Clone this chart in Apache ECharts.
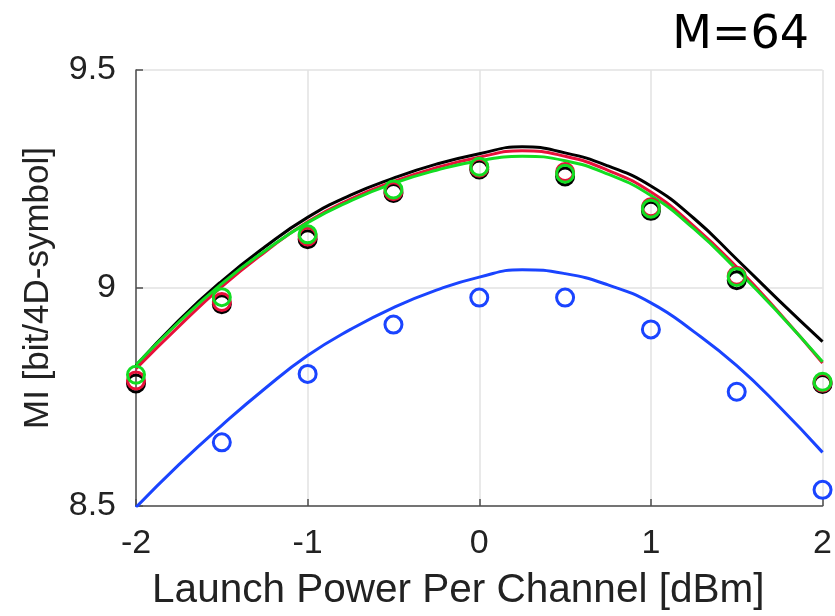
<!DOCTYPE html>
<html>
<head>
<meta charset="utf-8">
<script src="https://cdn.jsdelivr.net/npm/echarts@6/dist/echarts.min.js"></script>
<style>
  html, body { margin: 0; padding: 0; background: #fff; }
  #chart { width: 835px; height: 616px; }
</style>
</head>
<body>
<div id="chart"></div>
<script>
// Launch power (dBm): fine grid for model curves, coarse grid for simulated points
const powerCurve = [-2, -1.75, -1.5, -1.25, -1, -0.75, -0.5, -0.25, 0, 0.25, 0.5, 0.75, 1, 1.25, 1.5, 1.75, 2];
const powerPts = [-2, -1.5, -1, -0.5, 0, 0.5, 1, 1.5, 2];

// Model curves (MI, bit/4D-symbol)
const curveBlack = [8.822, 8.926, 9.016, 9.094, 9.162, 9.213, 9.252, 9.284, 9.308, 9.324, 9.310, 9.280, 9.234, 9.160, 9.066, 8.970, 8.877];
const curveRed   = [8.815, 8.912, 9.003, 9.082, 9.152, 9.204, 9.244, 9.276, 9.300, 9.315, 9.302, 9.270, 9.220, 9.142, 9.048, 8.942, 8.828];
const curveGreen = [8.824, 8.922, 9.010, 9.085, 9.150, 9.200, 9.240, 9.270, 9.292, 9.302, 9.292, 9.261, 9.212, 9.136, 9.042, 8.940, 8.831];
const curveBlue  = [8.497, 8.595, 8.685, 8.769, 8.845, 8.905, 8.955, 8.995, 9.025, 9.042, 9.033, 9.007, 8.966, 8.900, 8.822, 8.727, 8.623];

// Simulated points (blue point at -2 dBm falls below the axis range)
const ptsBlack = [8.781, 8.963, 9.112, 9.218, 9.272, 9.256, 9.177, 9.018, 8.780];
const ptsRed   = [8.788, 8.968, 9.118, 9.222, 9.276, 9.266, 9.185, 9.028, 8.783];
const ptsGreen = [8.801, 8.979, 9.123, 9.226, 9.278, 9.262, 9.182, 9.025, 8.785];
const ptsBlue  = [null, 8.646, 8.803, 8.916, 8.978, 8.978, 8.905, 8.762, 8.537];

const yTicks = [8.5, 9, 9.5];
const xTicks = [-2, -1, 0, 1, 2];

const colors = { black: '#000000', red: '#e8103a', green: '#12dd22', blue: '#1a44ff' };

const pair = (xs, ys) => xs.map((x, i) => [x, ys[i]]).filter(p => p[1] != null);

function lineSeries(name, ys, color) {
  return {
    name, type: 'line', data: pair(powerCurve, ys), smooth: 0.5,
    showSymbol: false, symbol: 'none', clip: true,
    lineStyle: { color, width: 3 }, z: 2, silent: true
  };
}
function dotSeries(name, ys, color, z) {
  return {
    name, type: 'scatter', data: pair(powerPts, ys),
    symbol: 'circle', symbolSize: 17, clip: true,
    itemStyle: { color: 'rgba(0,0,0,0)', borderColor: color, borderWidth: 3, opacity: 1 },
    z, silent: true
  };
}

const font = 'Liberation Sans, Arial, sans-serif';
const chart = echarts.init(document.getElementById('chart'), null, { renderer: 'canvas' });
chart.setOption({
  animation: false,
  backgroundColor: '#ffffff',
  title: {
    text: 'M=64', right: 21, top: 8,
    textStyle: { fontFamily: 'DejaVu Sans', fontSize: 46, fontWeight: 'normal', color: '#000' }
  },
  grid: { left: 136, right: 11, top: 70, bottom: 108, containLabel: false },
  xAxis: {
    type: 'value', min: -2, max: 2, interval: 1,
    name: 'Launch Power Per Channel [dBm]', nameLocation: 'middle', nameGap: 64,
    nameTextStyle: { fontFamily: font, fontSize: 40.5, color: '#222', padding: [0, 42, 0, 0] },
    axisLine: { show: true, onZero: false, lineStyle: { color: '#4d4d4d', width: 1.5 } },
    axisTick: { show: true, inside: true, length: 7, lineStyle: { color: '#4d4d4d', width: 1.5 } },
    axisLabel: { fontFamily: font, fontSize: 34, color: '#222', margin: 21,
      formatter: v => xTicks.includes(v) ? String(v) : '' },
    splitLine: { show: true, lineStyle: { color: '#e2e2e2', width: 1.5 } }
  },
  yAxis: {
    type: 'value', min: 8.5, max: 9.5, interval: 0.5,
    name: 'MI [bit/4D-symbol]', nameLocation: 'middle', nameGap: 80, nameRotate: 90,
    nameTextStyle: { fontFamily: font, fontSize: 35, color: '#222' },
    axisLine: { show: true, onZero: false, lineStyle: { color: '#4d4d4d', width: 1.5 } },
    axisTick: { show: true, inside: true, length: 7, lineStyle: { color: '#4d4d4d', width: 1.5 } },
    axisLabel: { fontFamily: font, fontSize: 34, color: '#222', margin: 20,
      formatter: v => yTicks.includes(v) ? String(v) : '' },
    splitLine: { show: true, lineStyle: { color: '#e2e2e2', width: 1.5 } }
  },
  series: [
    lineSeries('model-blue', curveBlue, colors.blue),
    lineSeries('model-black', curveBlack, colors.black),
    lineSeries('model-red', curveRed, colors.red),
    lineSeries('model-green', curveGreen, colors.green),
    dotSeries('sim-blue', ptsBlue, colors.blue, 5),
    dotSeries('sim-black', ptsBlack, colors.black, 6),
    dotSeries('sim-red', ptsRed, colors.red, 7),
    dotSeries('sim-green', ptsGreen, colors.green, 8)
  ]
});
</script>
</body>
</html>
